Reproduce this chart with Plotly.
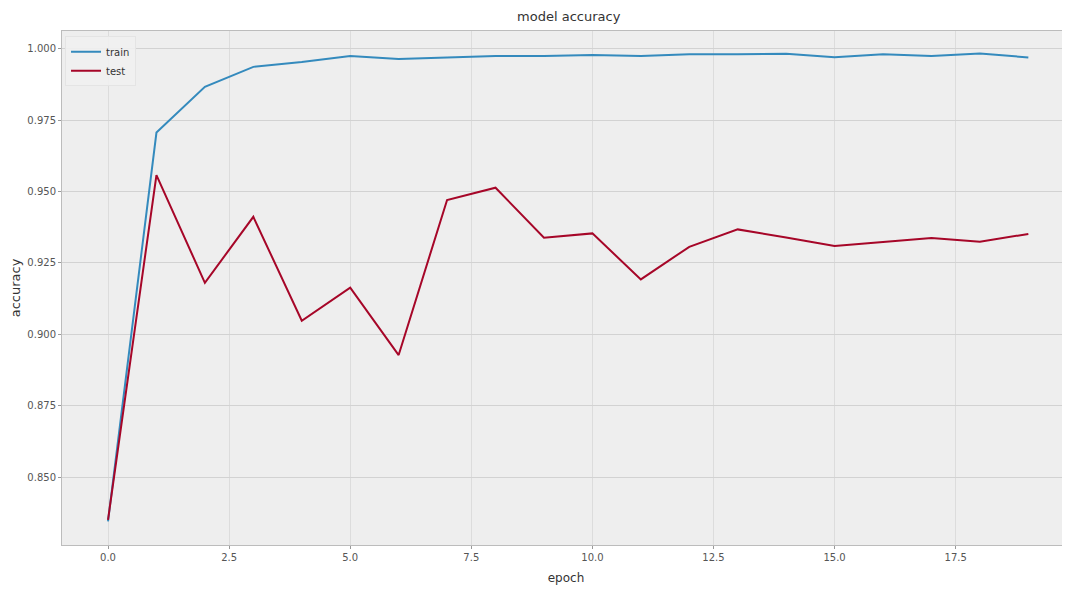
import plotly.graph_objects as go

epochs = list(range(20))
train_acc = [0.8345, 0.9706, 0.9866, 0.9936, 0.9953, 0.9974, 0.9964, 0.9970, 0.9974, 0.9974,
             0.9978, 0.9974, 0.9980, 0.9980, 0.9982, 0.9970, 0.9980, 0.9974, 0.9983, 0.9969]
test_acc = [0.8350, 0.9557, 0.9180, 0.9411, 0.9047, 0.9163, 0.8927, 0.9470, 0.9513, 0.9338,
            0.9353, 0.9192, 0.9306, 0.9367, 0.9339, 0.9309, 0.9323, 0.9337, 0.9324, 0.9351]
y_ticks = [0.850, 0.875, 0.900, 0.925, 0.950, 0.975, 1.000]
x_ticks = [0.0, 2.5, 5.0, 7.5, 10.0, 12.5, 15.0, 17.5]

fig = go.Figure()
fig.add_trace(go.Scatter(x=epochs, y=train_acc, mode="lines", name="train",
                         line=dict(color="#348ABD", width=2)))
fig.add_trace(go.Scatter(x=epochs, y=test_acc, mode="lines", name="test",
                         line=dict(color="#A60628", width=2)))

font_family = "DejaVu Sans"
# page has an 8px body margin, so the figure is sized to fill the rest of the window
fig.update_layout(
    width=1062, height=583,
    margin=dict(l=54, r=0, t=23, b=46),
    paper_bgcolor="white",
    plot_bgcolor="#eeeeee",
    title=dict(text="model accuracy", x=0.528, xanchor="center", y=0.986, yanchor="middle",
               font=dict(family=font_family, size=13, color="#333333")),
    font=dict(family=font_family, size=10, color="#555555"),
    showlegend=True,
    legend=dict(x=0.003, y=0.99, xanchor="left", yanchor="top",
                bgcolor="rgba(240,240,240,0.9)", bordercolor="#e4e4e4", borderwidth=1,
                font=dict(family=font_family, size=10, color="#333333"),
                itemwidth=30, tracegroupgap=0),
)
fig.update_xaxes(
    range=[-0.95, 19.86], tickvals=x_ticks, ticktext=[f"{v:.1f}" for v in x_ticks],
    showgrid=True, gridcolor="#dcdcdc", gridwidth=1, zeroline=False,
    showline=True, linecolor="#bcbcbc", linewidth=1, mirror=True,
    ticks="outside", ticklen=3, tickcolor="#999999",
    title=dict(text="epoch", font=dict(family=font_family, size=12, color="#333333"), standoff=11),
)
fig.update_yaxes(
    range=[0.8262, 1.00616], tickvals=y_ticks, ticktext=[f"{v:.3f}" for v in y_ticks],
    showgrid=True, gridcolor="#d2d2d2", gridwidth=1, zeroline=False,
    showline=True, linecolor="#bcbcbc", linewidth=1, mirror=True,
    ticks="outside", ticklen=3, tickcolor="#999999",
    title=dict(text="accuracy", font=dict(family=font_family, size=13, color="#333333"), standoff=8),
)

fig.write_html("out.html")
